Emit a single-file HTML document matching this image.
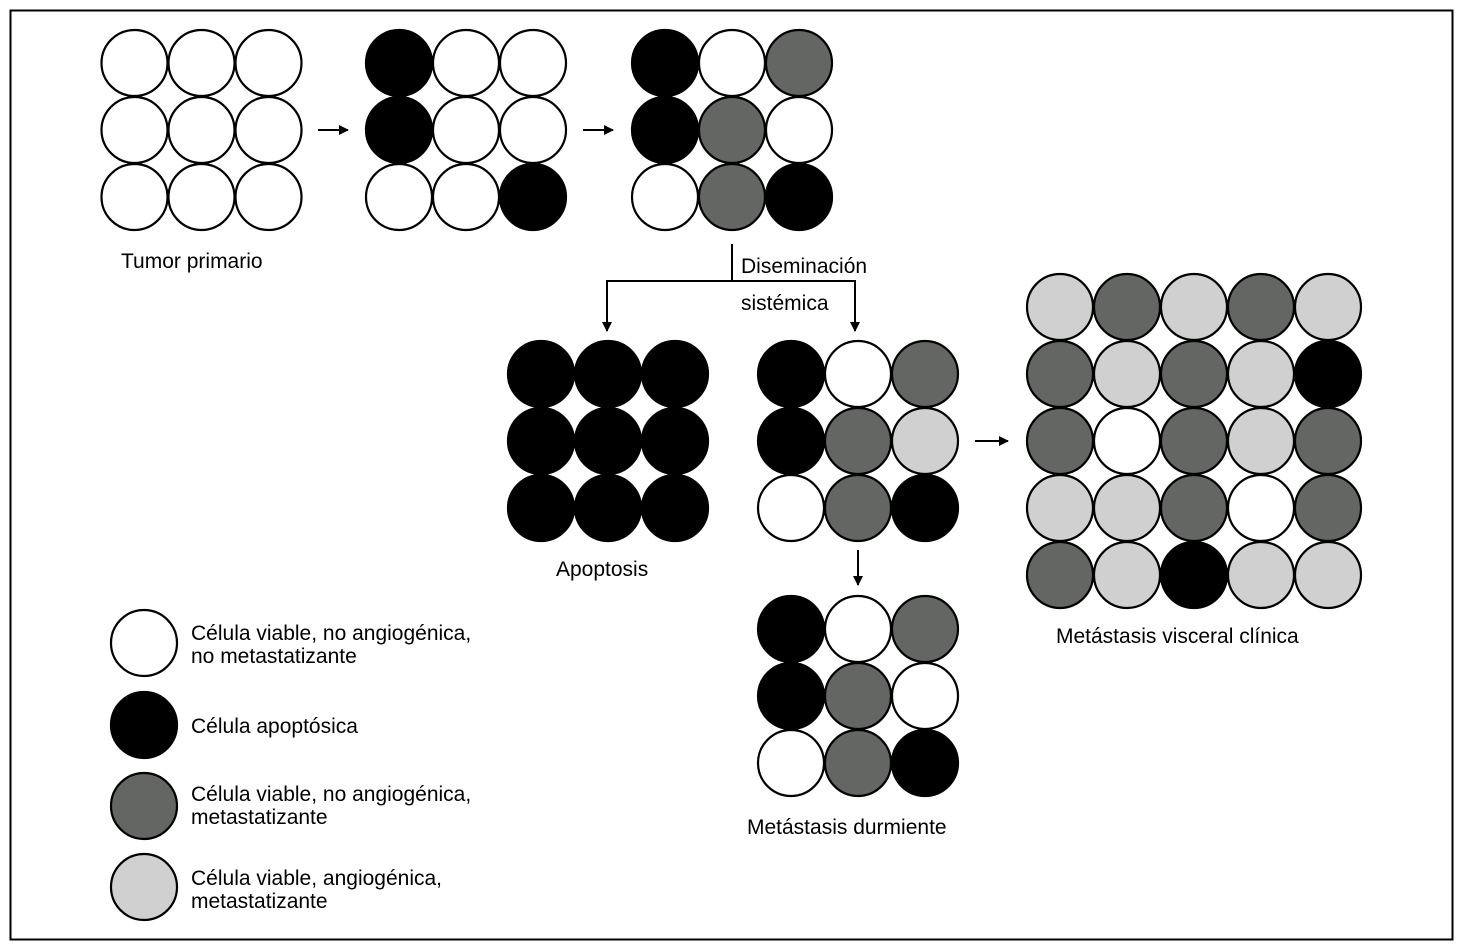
<!DOCTYPE html>
<html><head><meta charset="utf-8"><style>
html,body{margin:0;padding:0;background:#fff;}
svg{display:block;}
text{font-family:"Liberation Sans",sans-serif;font-size:21px;fill:#000;}
</style></head><body>
<svg width="1463" height="948" viewBox="0 0 1463 948" xmlns="http://www.w3.org/2000/svg">
<defs><marker id="a" markerWidth="10" markerHeight="10" refX="9" refY="5" orient="auto" markerUnits="userSpaceOnUse"><path d="M0,0 L10,5 L0,10 z" fill="#000"/></marker></defs>
<rect x="10.5" y="10.5" width="1442" height="929" fill="none" stroke="#000" stroke-width="2"/>
<g stroke="#000" stroke-width="2.2" id="c">
<!-- grid1 -->
<circle cx="134.5" cy="63" r="33" fill="#fff"/><circle cx="201.5" cy="63" r="33" fill="#fff"/><circle cx="268.5" cy="63" r="33" fill="#fff"/>
<circle cx="134.5" cy="130" r="33" fill="#fff"/><circle cx="201.5" cy="130" r="33" fill="#fff"/><circle cx="268.5" cy="130" r="33" fill="#fff"/>
<circle cx="134.5" cy="197" r="33" fill="#fff"/><circle cx="201.5" cy="197" r="33" fill="#fff"/><circle cx="268.5" cy="197" r="33" fill="#fff"/>
<!-- grid2 -->
<circle cx="399" cy="63" r="33" fill="#000"/><circle cx="466" cy="63" r="33" fill="#fff"/><circle cx="533" cy="63" r="33" fill="#fff"/>
<circle cx="399" cy="130" r="33" fill="#000"/><circle cx="466" cy="130" r="33" fill="#fff"/><circle cx="533" cy="130" r="33" fill="#fff"/>
<circle cx="399" cy="197" r="33" fill="#fff"/><circle cx="466" cy="197" r="33" fill="#fff"/><circle cx="533" cy="197" r="33" fill="#000"/>
<!-- grid3 -->
<circle cx="665" cy="63" r="33" fill="#000"/><circle cx="732" cy="63" r="33" fill="#fff"/><circle cx="799" cy="63" r="33" fill="#646663"/>
<circle cx="665" cy="130" r="33" fill="#000"/><circle cx="732" cy="130" r="33" fill="#646663"/><circle cx="799" cy="130" r="33" fill="#fff"/>
<circle cx="665" cy="197" r="33" fill="#fff"/><circle cx="732" cy="197" r="33" fill="#646663"/><circle cx="799" cy="197" r="33" fill="#000"/>
<!-- apoptosis -->
<circle cx="541" cy="374" r="33" fill="#000"/><circle cx="608" cy="374" r="33" fill="#000"/><circle cx="675" cy="374" r="33" fill="#000"/>
<circle cx="541" cy="441" r="33" fill="#000"/><circle cx="608" cy="441" r="33" fill="#000"/><circle cx="675" cy="441" r="33" fill="#000"/>
<circle cx="541" cy="508" r="33" fill="#000"/><circle cx="608" cy="508" r="33" fill="#000"/><circle cx="675" cy="508" r="33" fill="#000"/>
<!-- dormant top -->
<circle cx="791" cy="374" r="33" fill="#000"/><circle cx="858" cy="374" r="33" fill="#fff"/><circle cx="925" cy="374" r="33" fill="#646663"/>
<circle cx="791" cy="441" r="33" fill="#000"/><circle cx="858" cy="441" r="33" fill="#646663"/><circle cx="925" cy="441" r="33" fill="#d0d0d0"/>
<circle cx="791" cy="508" r="33" fill="#fff"/><circle cx="858" cy="508" r="33" fill="#646663"/><circle cx="925" cy="508" r="33" fill="#000"/>
<!-- dormant bottom -->
<circle cx="791" cy="629" r="33" fill="#000"/><circle cx="858" cy="629" r="33" fill="#fff"/><circle cx="925" cy="629" r="33" fill="#646663"/>
<circle cx="791" cy="696" r="33" fill="#000"/><circle cx="858" cy="696" r="33" fill="#646663"/><circle cx="925" cy="696" r="33" fill="#fff"/>
<circle cx="791" cy="763" r="33" fill="#fff"/><circle cx="858" cy="763" r="33" fill="#646663"/><circle cx="925" cy="763" r="33" fill="#000"/>
<!-- big grid -->
<circle cx="1060" cy="307" r="33" fill="#d0d0d0"/><circle cx="1127" cy="307" r="33" fill="#646663"/><circle cx="1194" cy="307" r="33" fill="#d0d0d0"/><circle cx="1261" cy="307" r="33" fill="#646663"/><circle cx="1328" cy="307" r="33" fill="#d0d0d0"/>
<circle cx="1060" cy="374" r="33" fill="#646663"/><circle cx="1127" cy="374" r="33" fill="#d0d0d0"/><circle cx="1194" cy="374" r="33" fill="#646663"/><circle cx="1261" cy="374" r="33" fill="#d0d0d0"/><circle cx="1328" cy="374" r="33" fill="#000"/>
<circle cx="1060" cy="441" r="33" fill="#646663"/><circle cx="1127" cy="441" r="33" fill="#fff"/><circle cx="1194" cy="441" r="33" fill="#646663"/><circle cx="1261" cy="441" r="33" fill="#d0d0d0"/><circle cx="1328" cy="441" r="33" fill="#646663"/>
<circle cx="1060" cy="508" r="33" fill="#d0d0d0"/><circle cx="1127" cy="508" r="33" fill="#d0d0d0"/><circle cx="1194" cy="508" r="33" fill="#646663"/><circle cx="1261" cy="508" r="33" fill="#fff"/><circle cx="1328" cy="508" r="33" fill="#646663"/>
<circle cx="1060" cy="575" r="33" fill="#646663"/><circle cx="1127" cy="575" r="33" fill="#d0d0d0"/><circle cx="1194" cy="575" r="33" fill="#000"/><circle cx="1261" cy="575" r="33" fill="#d0d0d0"/><circle cx="1328" cy="575" r="33" fill="#d0d0d0"/>
<!-- legend -->
<circle cx="144" cy="643" r="33" fill="#fff"/>
<circle cx="144" cy="725" r="33" fill="#000"/>
<circle cx="144" cy="806" r="33" fill="#646663"/>
<circle cx="144" cy="887" r="33" fill="#d0d0d0"/>
</g>
<g stroke="#000" stroke-width="2" fill="none">
<line x1="318" y1="130" x2="348" y2="130" marker-end="url(#a)"/>
<line x1="583" y1="130" x2="613" y2="130" marker-end="url(#a)"/>
<line x1="975" y1="441" x2="1008" y2="441" marker-end="url(#a)"/>
<line x1="732" y1="244" x2="732" y2="281"/>
<polyline points="607,331 607,281 855,281 855,331" marker-end="url(#a)"/>
<line x1="607" y1="290" x2="607" y2="331" marker-end="url(#a)"/>
<line x1="858" y1="550" x2="858" y2="585" marker-end="url(#a)"/>
</g>
<text x="121" y="268">Tumor primario</text>
<text x="741" y="273">Diseminación</text>
<text x="741" y="310">sistémica</text>
<text x="556" y="576">Apoptosis</text>
<text x="747" y="834">Metástasis durmiente</text>
<text x="1056" y="643">Metástasis visceral clínica</text>
<text x="191" y="640">Célula viable, no angiogénica,</text>
<text x="191" y="663">no metastatizante</text>
<text x="191" y="733">Célula apoptósica</text>
<text x="191" y="801">Célula viable, no angiogénica,</text>
<text x="191" y="824">metastatizante</text>
<text x="191" y="885">Célula viable, angiogénica,</text>
<text x="191" y="908">metastatizante</text>
</svg>
</body></html>
